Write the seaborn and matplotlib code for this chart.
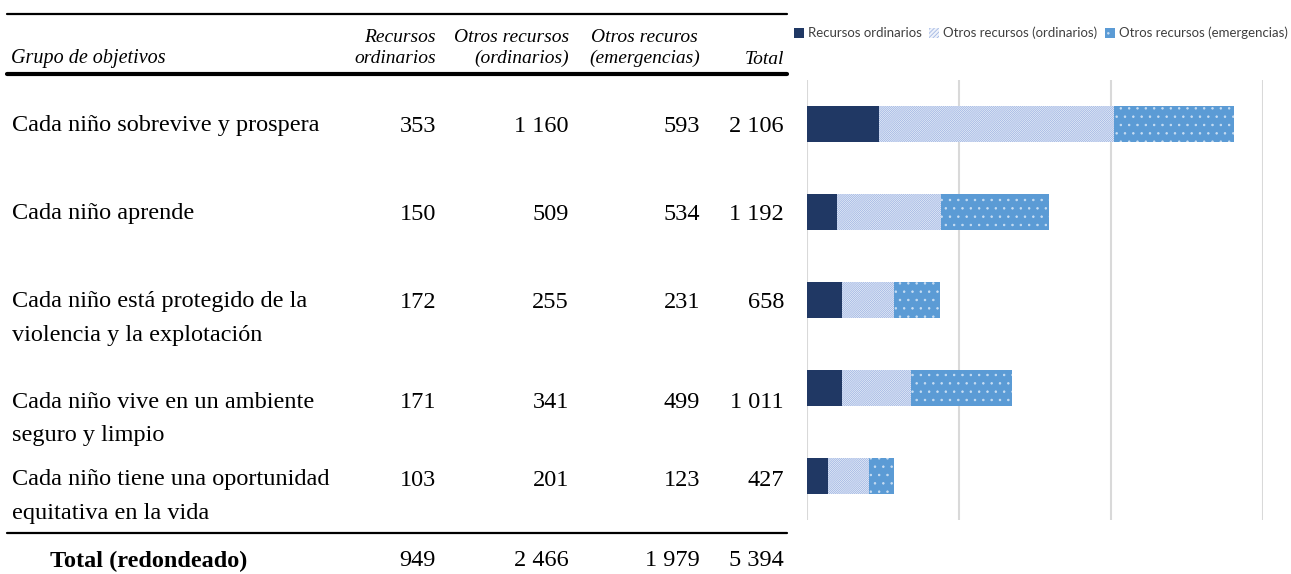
import numpy as np
import pandas as pd
import seaborn as sns
import matplotlib.pyplot as plt
from matplotlib.lines import Line2D
from matplotlib.patches import Patch

# table / chart data
goals = [
    'Cada niño sobrevive y prospera',
    'Cada niño aprende',
    'Cada niño está protegido de la\nviolencia y la explotación',
    'Cada niño vive en un ambiente\nseguro y limpio',
    'Cada niño tiene una oportunidad\nequitativa en la vida',
]
ordinarios = [353, 150, 172, 171, 103]
otros_ord = [1160, 509, 255, 341, 201]
otros_emerg = [593, 534, 231, 499, 123]
totals = [2106, 1192, 658, 1011, 427]
total_row = [949, 2466, 1979, 5394]

headers = ['Recursos\nordinarios', 'Otros recursos\n(ordinarios)', 'Otros recuros\n(emergencias)', 'Total']
series_names = ['Recursos ordinarios', 'Otros recursos (ordinarios)', 'Otros recursos (emergencias)']

W, H = 1291, 574
sns.set_theme(style='white')
plt.rcParams['hatch.linewidth'] = 0.55
plt.rcParams['text.color'] = 'black'

fig = plt.figure(figsize=(W / 100, H / 100), dpi=100)


def fx(x):
    return x / W


def fy(y):
    return 1 - y / H


def fmt(v):
    return f'{v:,}'.replace(',', ' ')


serif = 'Liberation Serif'
body = 17.5

# --- table ---
fig.add_artist(Line2D([fx(7), fx(787)], [fy(14), fy(14)], color='black', lw=1.6))
fig.add_artist(Line2D([fx(7), fx(787)], [fy(74), fy(74)], color='black', lw=3))
fig.add_artist(Line2D([fx(7), fx(787)], [fy(533), fy(533)], color='black', lw=1.6))

fig.text(fx(11), fy(59), 'Grupo de objetivos', family=serif, style='italic',
         fontsize=14.5, ha='left', va='center')
col_right = [436, 569, 700, 784]
for i, h in enumerate(headers):
    ma = 'center' if i == 2 else 'right'
    yc = 48 if '\n' in h else 59
    fig.text(fx(col_right[i]), fy(yc), h, family=serif, style='italic', fontsize=14,
             ha='right', va='center', multialignment=ma, linespacing=1.3)

row_y = [126, 214, 302, 402, 480]
for r, name in enumerate(goals):
    for k, line in enumerate(name.split('\n')):
        fig.text(fx(12), fy(row_y[r] + 33 * k), line, family=serif, fontsize=body,
                 ha='left', va='center')
    vals = [ordinarios[r], otros_ord[r], otros_emerg[r], totals[r]]
    for c, v in enumerate(vals):
        fig.text(fx(col_right[c]), fy(row_y[r]), fmt(v), family=serif, fontsize=body,
                 ha='right', va='center')

fig.text(fx(50), fy(561), 'Total (redondeado)', family=serif, fontsize=body,
         fontweight='bold', ha='left', va='center')
for c, v in enumerate(total_row):
    fig.text(fx(col_right[c]), fy(561), fmt(v), family=serif, fontsize=body,
             ha='right', va='center')

# --- stacked bars ---
df = pd.DataFrame({
    'goal': goals,
    'ord': ordinarios,
    'ord_otros': np.add(ordinarios, otros_ord),
    'all': np.add(np.add(ordinarios, otros_ord), otros_emerg),
})

ax = fig.add_axes([fx(807), fy(520), fx(1263 - 807), 440 / H])
dark = '#203864'
hatch_c = '#9cb3e2'
hatch_bg = '#eef2fa'
dot_bg = '#5b9bd5'
dot_c = '#c9def3'

sns.barplot(data=df, y='goal', x='all', orient='h', color=dot_bg, width=0.41,
            saturation=1, ax=ax, edgecolor=dot_c, linewidth=0)
for p in ax.patches:
    p.set_hatch('..')
n0 = len(ax.patches)
sns.barplot(data=df, y='goal', x='ord_otros', orient='h', color=hatch_bg, width=0.41,
            saturation=1, ax=ax, edgecolor=hatch_c, linewidth=0)
for p in ax.patches[n0:]:
    p.set_hatch('/' * 16)
sns.barplot(data=df, y='goal', x='ord', orient='h', color=dark, width=0.41,
            saturation=1, ax=ax, linewidth=0)

ax.set_xlim(0, 2250)
ax.set_xticks([0, 750, 1500, 2250])
ax.xaxis.grid(True, color='#d9d9d9', lw=1.5)
ax.set_axisbelow(True)
ax.tick_params(left=False, bottom=False, labelleft=False, labelbottom=False)
ax.set_xlabel('')
ax.set_ylabel('')
for s in ax.spines.values():
    s.set_visible(False)

handles = [
    Patch(facecolor=dark, edgecolor=dark, lw=0),
    Patch(facecolor=hatch_bg, edgecolor=hatch_c, hatch='/' * 8, lw=0),
    Patch(facecolor=dot_bg, edgecolor=dot_c, hatch='..', lw=0),
]
leg = fig.legend(handles, series_names, loc='center right', bbox_to_anchor=(fx(1288), fy(33)),
                 ncol=3, frameon=False, prop={'family': 'Lato', 'size': 9.5},
                 handlelength=0.75, handleheight=0.75, handletextpad=0.3, columnspacing=0.6,
                 borderaxespad=0, borderpad=0)
for t in leg.get_texts():
    t.set_color('#404040')

fig.savefig('out.png', dpi=100)
